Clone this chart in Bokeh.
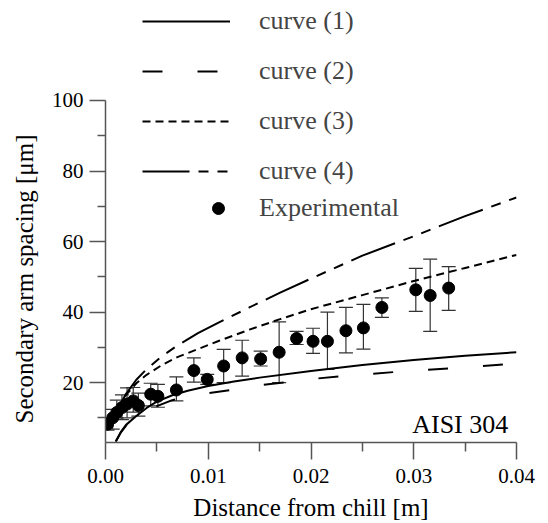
from bokeh.plotting import figure
from bokeh.models import (Range1d, FixedTicker, NumeralTickFormatter, Legend, LegendItem,
                          Whisker, TeeHead, ColumnDataSource, Label, Title)
from bokeh.embed import file_html
from bokeh.resources import INLINE

# ---- data ----
curve1_x = [0.0010, 0.0015, 0.0020, 0.0030, 0.0040, 0.0050, 0.0065, 0.0080, 0.0100,
            0.0125, 0.0150, 0.0200, 0.0250, 0.0300, 0.0350, 0.0400]
curve1_y = [3.3, 6.0, 8.0, 10.5, 12.8, 14.6, 16.4, 17.7, 19.0,
            20.3, 21.4, 23.3, 25.0, 26.4, 27.6, 28.6]

curve2_x = [0.0010, 0.0015, 0.0020, 0.0030, 0.0040, 0.0050, 0.0065, 0.0080, 0.0100,
            0.0125, 0.0150, 0.0200, 0.0250, 0.0300, 0.0350, 0.0400]
curve2_y = [3.3, 5.9, 7.8, 10.2, 12.0, 13.3, 15.0, 16.1, 17.0,
            18.0, 19.2, 21.0, 22.3, 23.4, 24.3, 25.4]

curve3_x = [0.0012, 0.0020, 0.0030, 0.0040, 0.0055, 0.0070, 0.0090, 0.0110, 0.0140,
            0.0170, 0.0200, 0.0250, 0.0300, 0.0350, 0.0400]
curve3_y = [13.0, 16.5, 19.8, 22.2, 25.0, 27.2, 29.5, 31.8, 35.0,
            38.0, 40.8, 44.8, 48.8, 52.5, 56.2]

curve4_x = [0.0012, 0.0020, 0.0030, 0.0040, 0.0055, 0.0070, 0.0090, 0.0110, 0.0140,
            0.0170, 0.0200, 0.0250, 0.0300, 0.0350, 0.0400]
curve4_y = [12.5, 16.8, 20.8, 23.8, 27.5, 30.5, 34.0, 37.0, 41.3,
            45.5, 49.5, 56.0, 61.5, 67.2, 72.5]

exp_x = [0.0002, 0.0007, 0.0011, 0.0016, 0.0021, 0.0027, 0.0032, 0.0044, 0.0051,
         0.0069, 0.0086, 0.0099, 0.0115, 0.0133, 0.0151, 0.0169, 0.0186, 0.0202,
         0.0216, 0.0234, 0.0251, 0.0269, 0.0302, 0.0316, 0.0334]
exp_y = [8.2, 10.0, 11.5, 12.9, 13.9, 14.8, 13.5, 16.7, 16.1,
         17.9, 23.4, 20.9, 24.7, 27.0, 26.7, 28.6, 32.5, 31.7,
         31.7, 34.7, 35.5, 41.3, 46.3, 44.7, 46.8]
exp_lower = [6.5, 6.8, 10.0, 9.5, 10.0, 11.6, 10.5, 13.4, 13.0,
             14.8, 20.1, 19.5, 20.0, 21.8, 24.7, 20.0, 30.8, 28.3,
             23.7, 28.4, 29.5, 38.5, 40.2, 34.5, 40.5]
exp_upper = [10.0, 12.4, 15.0, 16.5, 18.5, 18.6, 17.0, 19.8, 19.5,
             21.6, 27.0, 22.3, 29.4, 32.0, 28.9, 37.2, 34.5, 35.4,
             40.0, 41.3, 42.2, 44.0, 52.4, 55.0, 52.9]

x_ticks = [0.0, 0.01, 0.02, 0.03, 0.04]
x_minor = [0.005, 0.015, 0.025, 0.035]
y_ticks = [20, 40, 60, 80, 100]
y_minor = [10, 30, 50, 70, 90]

FONT = "'Liberation Serif', 'Times New Roman', serif"

# frame spans the full canvas height so the legend (which overlaps the top) is not clipped;
# the y axis itself is bounded to 3..100
p = figure(frame_width=411, frame_height=442, output_backend="svg", toolbar_location=None,
           x_range=Range1d(0, 0.04), y_range=Range1d(3, 128.36),
           min_border_left=105, min_border_right=32, min_border_top=0, min_border_bottom=60)
p.grid.visible = False
p.outline_line_color = None
p.background_fill_color = "white"

for ax in (p.xaxis[0], p.yaxis[0]):
    ax.axis_line_color = "#555555"
    ax.axis_line_width = 1.5
    ax.major_tick_line_color = "#555555"
    ax.major_tick_line_width = 1.5
    ax.minor_tick_line_color = "#555555"
    ax.minor_tick_line_width = 1.5
    ax.major_tick_in = 0
    ax.minor_tick_in = 0
    ax.major_label_text_font = FONT
    ax.major_label_text_font_size = "21px"
    ax.major_label_text_color = "black"
    ax.axis_label_text_font = FONT
    ax.axis_label_text_font_size = "25px"
    ax.axis_label_text_font_style = "normal"
    ax.axis_label_text_color = "black"

xa = p.xaxis[0]
xa.ticker = FixedTicker(ticks=x_ticks, minor_ticks=x_minor)
xa.formatter = NumeralTickFormatter(format="0.00")
xa.major_tick_out = 17
xa.minor_tick_out = 9
xa.major_label_standoff = 9
xa.axis_label = "Distance from chill [m]"
xa.axis_label_standoff = 8

ya = p.yaxis[0]
ya.ticker = FixedTicker(ticks=y_ticks, minor_ticks=y_minor)
ya.bounds = (3, 100)
ya.major_tick_out = 16
ya.minor_tick_out = 8
ya.major_label_standoff = 6

# y axis title, positioned along the bounded part of the axis
p.add_layout(Title(text="Secondary arm spacing [μm]", align="left", offset=19,
                   vertical_align="middle", standoff=19,
                   text_font=FONT, text_font_size="25px", text_font_style="normal",
                   text_color="black"), "left")

# curves
r1 = p.line(curve1_x, curve1_y, line_color="black", line_width=2)
r2 = p.line(curve2_x, curve2_y, line_color="black", line_width=2, line_dash="20 35")
r3 = p.line(curve3_x, curve3_y, line_color="black", line_width=2, line_dash="8 5")
r4 = p.line(curve4_x, curve4_y, line_color="black", line_width=2, line_dash="47 9 10 9 10 9")

# experimental with error bars
src = ColumnDataSource(dict(x=exp_x, y=exp_y, lower=exp_lower, upper=exp_upper))
wh = Whisker(source=src, base="x", upper="upper", lower="lower", dimension="height",
             line_color="#333333", line_width=1.2,
             upper_head=TeeHead(size=14, line_color="#333333", line_width=1.2),
             lower_head=TeeHead(size=14, line_color="#333333", line_width=1.2))
p.add_layout(wh)
r5 = p.scatter("x", "y", source=src, size=12, fill_color="black", line_color="black")

# legends
leg1 = Legend(items=[LegendItem(label="curve (1)", renderers=[r1]),
                     LegendItem(label="curve (2)", renderers=[r2]),
                     LegendItem(label="curve (3)", renderers=[r3]),
                     LegendItem(label="curve (4)", renderers=[r4])],
              location=(37, 256), glyph_width=88, glyph_height=30, label_height=30,
              spacing=20, padding=0, margin=0, label_standoff=29,
              border_line_alpha=0, background_fill_alpha=0,
              label_text_font=FONT, label_text_font_size="26px")
leg2 = Legend(items=[LegendItem(label="Experimental", renderers=[r5])],
              location=(98, 219), glyph_width=30, glyph_height=30, label_height=30,
              padding=0, margin=0, label_standoff=26,
              border_line_alpha=0, background_fill_alpha=0,
              label_text_font=FONT, label_text_font_size="26px")
p.add_layout(leg1)
p.add_layout(leg2)

p.add_layout(Label(x=0.0392, y=8.1, text="AISI 304", text_align="right",
                   text_baseline="alphabetic", text_font=FONT, text_font_size="26px",
                   text_color="black"))

open("out.html", "w").write(file_html(p, INLINE))
